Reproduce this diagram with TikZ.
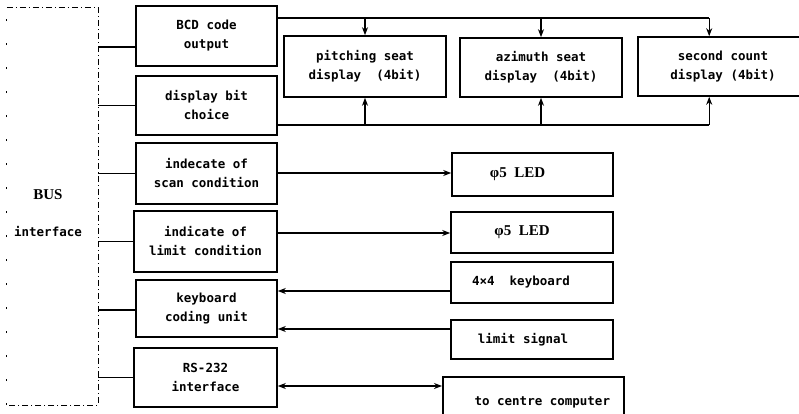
\documentclass[tikz,border=0pt]{standalone}
\usepackage{fontspec}
\setmainfont{DejaVu Sans Mono}
\newfontfamily\serifbold[UprightFont=* Bold]{Liberation Serif}
\usetikzlibrary{arrows.meta,calc}

\tikzset{
  blk/.style={draw, line width=1.6pt, rectangle, inner sep=0pt, align=center,
              font=\fontsize{12.5}{19}\selectfont\bfseries},
  txt/.style={inner sep=0pt, font=\fontsize{12.5}{19}\selectfont\bfseries},
  wire/.style={line width=1.4pt},
  tip/.style={-{Stealth[length=8pt,width=6pt]}},
  tips/.style={{Stealth[length=8pt,width=6pt]}-{Stealth[length=8pt,width=6pt]}},
  frame/.style={line width=0.9pt, dash pattern=on 6pt off 3pt on 1pt off 3pt},
}

\begin{document}
\begin{tikzpicture}[x=1pt,y=-1pt]
\useasboundingbox (0,0) rectangle (799,414);
\clip (0,0) rectangle (799,414);

% bus interface frame
\node[minimum width=91pt, minimum height=397pt, inner sep=0pt] (bus) at (52.5,206.5) {};
\draw[frame] (bus.north west) -- (bus.north east) -- (bus.south east) -- (bus.south west);
\draw[line width=0.8pt, dash pattern=on 2pt off 22pt] (bus.south west) -- (bus.north west);
\node[inner sep=0pt, font=\fontsize{15}{17}\selectfont\serifbold] (buslbl) at (48,195) {BUS};
\node[txt] (busif) at (48,232) {interface};

% left column of units
\node[blk, minimum width=141pt, minimum height=60pt] (bcd)   at (206.5,36)    {BCD code\\output};
\node[blk, minimum width=141pt, minimum height=59pt] (dbc)   at (206.5,105.5) {display bit\\choice};
\node[blk, minimum width=141pt, minimum height=61pt] (scan)  at (206.5,173.5) {indecate of\\scan condition};
\node[blk, minimum width=143pt, minimum height=61pt] (limit) at (205.5,241.5) {indicate of\\limit condition};
\node[blk, minimum width=141pt, minimum height=57pt] (kcu)   at (206.5,308.5) {keyboard\\coding unit};
\node[blk, minimum width=143pt, minimum height=59pt] (rs)    at (205.5,377.5) {RS-232\\interface};

% display modules
\node[blk, minimum width=162pt, minimum height=61pt] (pitch) at (365,66.5) {pitching seat\\display\ \ (4bit)};
\node[blk, minimum width=162pt, minimum height=59pt] (azi)   at (541,67.5) {azimuth seat\\display\ \ (4bit)};
\node[blk, minimum width=170pt, minimum height=59pt] (sec)   at (723,66.5) {second count\\display (4bit)};

% peripherals
\node[blk, minimum width=161pt, minimum height=43pt] (led1) at (532.5,174.5)
  {{\serifbold\fontsize{15}{17}\selectfont φ5\ \ LED}\hspace*{30pt}};
\node[blk, minimum width=162pt, minimum height=41pt] (led2) at (532,232.5)
  {{\serifbold\fontsize{15}{17}\selectfont φ5\ \ LED}\hspace*{20pt}};
\node[blk, minimum width=162pt, minimum height=41pt] (kb)   at (532,282.5)
  {\raisebox{4pt}{4×4\ \ keyboard}\hspace*{22pt}};
\node[blk, minimum width=162pt, minimum height=39pt] (lim)  at (532,339.5)
  {limit signal\hspace*{18pt}};
\node[blk, minimum width=181pt, minimum height=60pt, anchor=north west] (tcc) at (442,376)
  {\raisebox{12pt}{to centre computer}\hspace*{-18pt}};

% bus frame to units
\coordinate (bcdin) at ($(bcd.west)+(0,11)$);
\coordinate (kcuin) at ($(kcu.west)+(0,1.5)$);
\draw[wire] (bcdin)      -- (bcdin -| bus.east);
\draw[wire] (dbc.west)   -- (dbc.west -| bus.east);
\draw[wire] (scan.west)  -- (scan.west -| bus.east);
\draw[wire] (limit.west) -- (limit.west -| bus.east);
\draw[wire] (kcuin)      -- (kcuin -| bus.east);
\draw[wire] (rs.west)    -- (rs.west -| bus.east);

% data bus (top) and bit-select bus (bottom)
\coordinate (tb0) at ($(bcd.north east)+(0,13)$);
\coordinate (bb0) at ($(dbc.north east)+(0,50)$);
\coordinate (tbend) at ($(tb0 -| sec.north west)+(72,0)$);
\coordinate (bbend) at ($(bb0 -| sec.north west)+(72,0)$);
\draw[wire] (tb0) -- (tbend);
\draw[wire] (bb0) -- (bbend);
\draw[wire, tip] (tb0 -| pitch.north) -- (pitch.north);
\draw[wire, tip] (tb0 -| azi.north)   -- (azi.north);
\draw[wire, tip] (tbend) -- (tbend |- sec.north);
\draw[wire, tip] (bb0 -| pitch.south) -- (pitch.south);
\draw[wire, tip] (bb0 -| azi.south)   -- (azi.south);
\draw[wire, tip] (bbend) -- (bbend |- sec.south);

% indicator and peripheral links
\coordinate (scanout) at ($(scan.east)+(0,-0.5)$);
\coordinate (limout)  at ($(limit.east)+(0,-8.5)$);
\coordinate (kbout)   at ($(kb.west)+(0,8.5)$);
\coordinate (limsig)  at ($(lim.west)+(0,-10.5)$);
\coordinate (rsout)   at ($(rs.east)+(0,8.5)$);
\draw[wire, tip]  (scanout) -- (scanout -| led1.west);
\draw[wire, tip]  (limout)  -- (limout -| led2.west);
\draw[wire, tip]  (kbout)   -- (kbout -| kcu.east);
\draw[wire, tip]  (limsig)  -- (limsig -| kcu.east);
\draw[wire, tips] (rsout)   -- (rsout -| tcc.west);
\end{tikzpicture}
\end{document}
